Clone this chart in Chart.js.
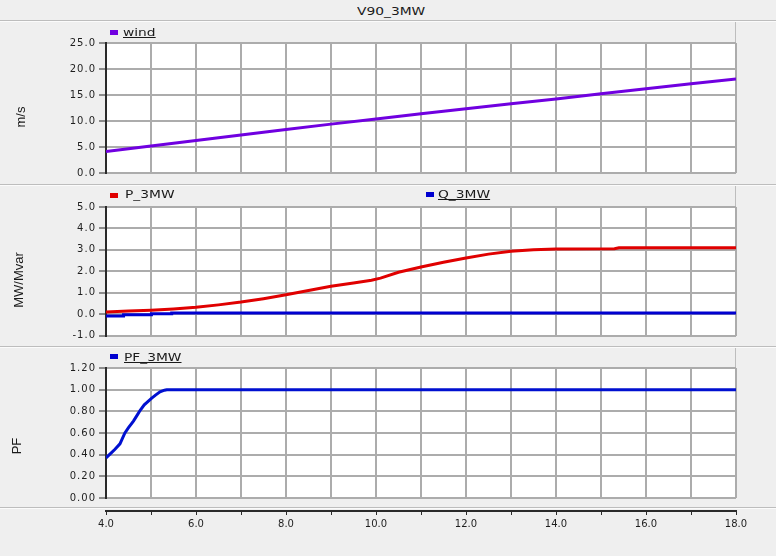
<!DOCTYPE html>
<html>
<head>
<meta charset="utf-8">
<script src="https://cdn.jsdelivr.net/npm/chart.js@4.4.0/dist/chart.umd.min.js"></script>
<style>
  html, body { margin: 0; padding: 0; }
  body {
    width: 776px; height: 556px; overflow: hidden; position: relative;
    background: #efefef; font-family: "DejaVu Sans", sans-serif; color: #1a1a1a;
  }
  canvas { position: absolute; left: 0; }
  .sep  { position: absolute; left: 0; width: 776px; height: 1px; background: #bdbdbd; border-bottom: 1px solid #fbfbfb; }
  .vsep { position: absolute; left: 735px; width: 1px; background: #bdbdbd; }
  .txt  { position: absolute; font-size: 10px; line-height: 12px; white-space: nowrap;
          transform-origin: 0 50%; transform: scaleX(1.38); z-index: 2; }
  .u    { text-decoration: underline; }
  .key  { position: absolute; width: 8px; height: 5px; z-index: 2; }
  .ytitle { position: absolute; font-family: "Liberation Sans", Arial, sans-serif; font-size: 13px;
            white-space: nowrap; transform: translate(-50%, -50%) rotate(-90deg); z-index: 2; }
</style>
</head>
<body>

<div class="txt" style="left:357px;top:6px;">V90_3MW</div>
<div class="sep" style="top:20px;"></div>
<div class="vsep" style="top:22px;height:21px;"></div>
<div class="sep" style="top:184px;"></div>
<div class="vsep" style="top:186px;height:21px;"></div>
<div class="sep" style="top:346px;"></div>
<div class="vsep" style="top:348px;height:20px;"></div>
<div class="sep" style="top:507px;"></div>

<div class="key" style="left:110px;top:30px;background:#7000e0;"></div>
<div class="txt u" style="left:123px;top:27px;">wind</div>
<div class="key" style="left:110px;top:193px;background:#e00000;"></div>
<div class="txt" style="left:125px;top:189px;">P_3MW</div>
<div class="key" style="left:426px;top:192px;background:#0000d0;"></div>
<div class="txt u" style="left:438px;top:189px;">Q_3MW</div>
<div class="key" style="left:110px;top:354px;background:#0000d0;"></div>
<div class="txt u" style="left:124px;top:352px;">PF_3MW</div>

<div class="ytitle" style="left:20px;top:117px;">m/s</div>
<div class="ytitle" style="left:18px;top:280px;">MW/Mvar</div>
<div class="ytitle" style="left:16px;top:446px;">PF</div>

<canvas id="c-wind" width="776" height="161" style="top:22px"></canvas>
<canvas id="c-pq"   width="776" height="159" style="top:186px"></canvas>
<canvas id="c-pf"   width="776" height="159" style="top:348px"></canvas>
<canvas id="c-axis" width="776" height="48"  style="top:508px"></canvas>

<script>
'use strict';

/* ── Data ─────────────────────────────────────────────────── */
const xMin = 4, xMax = 18;

const windX      = [4, 5, 6, 7, 8, 9, 10, 11, 12, 13, 14, 15, 16, 17, 18];
const windValues = [4.15, 5.2, 6.25, 7.3, 8.35, 9.4, 10.4, 11.4, 12.35, 13.3, 14.25, 15.25, 16.2, 17.15, 18.1];

const pX      = [4, 4.5, 5, 5.5, 6, 6.5, 7, 7.5, 8, 8.5, 9, 9.5, 9.9, 10.1, 10.5, 11, 11.5, 12, 12.5, 13, 13.5, 14, 15.3, 15.4, 18];
const pValues = [0.1, 0.14, 0.18, 0.24, 0.32, 0.43, 0.56, 0.72, 0.9, 1.1, 1.3, 1.45, 1.58, 1.68, 1.95, 2.2, 2.42, 2.62, 2.8, 2.93, 3.0, 3.04, 3.05, 3.1, 3.1];

const qX      = [4, 4.39, 4.39, 5.01, 5.01, 5.46, 5.46, 18];
const qValues = [-0.09, -0.09, -0.03, -0.03, 0.01, 0.01, 0.05, 0.05];

const pfX      = [4.0, 4.1, 4.2, 4.31, 4.42, 4.5, 4.61, 4.7, 4.76, 4.85, 4.93, 5.01, 5.1, 5.2, 5.3, 5.35, 18];
const pfValues = [0.37, 0.41, 0.45, 0.5, 0.6, 0.65, 0.71, 0.77, 0.81, 0.86, 0.89, 0.92, 0.95, 0.98, 0.995, 1.0, 1.0];

const xLabelStep = 2;

/* ── Shared styling ───────────────────────────────────────── */
const FONT      = { family: '"DejaVu Sans", sans-serif', size: 10 };
const GRID      = '#acacac';
const AXIS      = '#2a2a2a';
const PLOT_L    = 106;   // px from canvas left to plot area
const PAD_R     = 40;

const pts = (xs, ys) => xs.map((x, i) => ({ x, y: ys[i] }));

// White plot area + wide-ish tick text like the source screenshot.
const plotBg = {
  id: 'plotBg',
  beforeDraw(ch) {
    const { ctx, chartArea: a } = ch;
    ctx.letterSpacing = '1px';
    if (ch.config.options.plugins.plotBg === false) return;
    ctx.save();
    ctx.fillStyle = '#ffffff';
    ctx.fillRect(a.left, a.top, a.right - a.left, a.bottom - a.top);
    ctx.restore();
  }
};

function line(label, xs, ys, color) {
  return {
    label, data: pts(xs, ys),
    borderColor: color, backgroundColor: color,
    borderWidth: 3, pointRadius: 0, fill: false, tension: 0
  };
}

function panel(id, datasets, y, pad) {
  return new Chart(document.getElementById(id), {
    type: 'line',
    data: { datasets },
    plugins: [plotBg],
    options: {
      responsive: false,
      devicePixelRatio: 1,
      animation: false,
      events: [],
      layout: { padding: { left: 0, right: PAD_R, top: pad[0], bottom: pad[1] } },
      plugins: { legend: { display: false }, tooltip: { enabled: false } },
      scales: {
        x: {
          type: 'linear', min: xMin, max: xMax,
          ticks: { display: false, stepSize: 1 },
          grid: { color: GRID, lineWidth: 2, drawTicks: false },
          border: { display: false },
          afterFit: s => { s.height = 0; }
        },
        y: {
          min: y.min, max: y.max,
          ticks: {
            stepSize: y.step, color: '#1e1e1e', font: FONT, padding: 3,
            callback: v => v.toFixed(y.dec)
          },
          grid: { color: GRID, lineWidth: 2, tickLength: 7, tickColor: AXIS, tickWidth: 1 },
          border: { color: AXIS, width: 2 },
          afterFit: s => { s.width = PLOT_L; }
        }
      }
    }
  });
}

panel('c-wind', [line('wind', windX, windValues, '#7000e0')],
      { min: 0, max: 25, step: 5, dec: 1 }, [21, 10]);

panel('c-pq', [
        line('P_3MW', pX, pValues, '#e00000'),
        line('Q_3MW', qX, qValues, '#0000d0')
      ],
      { min: -1, max: 5, step: 1, dec: 1 }, [21, 9.5]);

panel('c-pf', [line('PF_3MW', pfX, pfValues, '#0010d0')],
      { min: 0, max: 1.2, step: 0.2, dec: 2 }, [20, 9]);

/* ── Shared x axis under the bottom panel ─────────────────── */
new Chart(document.getElementById('c-axis'), {
  type: 'line',
  data: { datasets: [] },
  plugins: [plotBg],
  options: {
    responsive: false,
    devicePixelRatio: 1,
    animation: false,
    events: [],
    layout: { padding: { left: PLOT_L, right: PAD_R, top: 0, bottom: 0 } },
    plugins: { legend: { display: false }, tooltip: { enabled: false }, plotBg: false },
    scales: {
      x: {
        type: 'linear', min: xMin, max: xMax,
        ticks: {
          stepSize: 1, autoSkip: false, maxRotation: 0, color: '#1e1e1e', font: FONT, padding: 3,
          callback: v => (v - xMin) % xLabelStep === 0 ? v.toFixed(1) : ''
        },
        grid: { drawOnChartArea: false, tickLength: 4, tickColor: AXIS, tickWidth: 1 },
        border: { color: AXIS, width: 2 },
        afterFit: s => { s.height = 45; }
      },
      y: { display: false, min: 0, max: 1 }
    }
  }
});
</script>
</body>
</html>
